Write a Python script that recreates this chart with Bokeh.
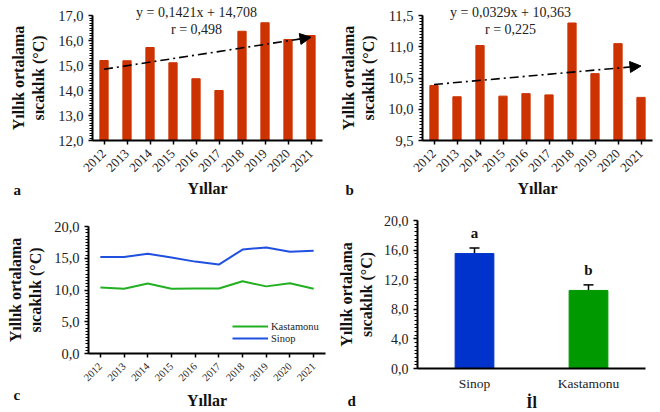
import math
from bokeh.plotting import figure
from bokeh.layouts import column, row
from bokeh.models import (Range1d, FixedTicker, SingleIntervalTicker, CustomJSTickFormatter,
                          Arrow, NormalHead, Label, Legend, LegendItem, ColumnDataSource,
                          Whisker, TeeHead)
from bokeh.embed import file_html
from bokeh.resources import INLINE
from bokeh.core.properties import value

# ---------------- data ----------------
years = [2012, 2013, 2014, 2015, 2016, 2017, 2018, 2019, 2020, 2021]
sinop_temp = [15.20, 15.19, 15.72, 15.11, 14.47, 14.00, 16.37, 16.71, 16.04, 16.20]
kastamonu_temp = [10.38, 10.20, 11.02, 10.21, 10.25, 10.23, 11.38, 10.57, 11.05, 10.19]
sinop_slope, sinop_intercept, sinop_r = 0.1421, 14.708, 0.498
kast_slope, kast_intercept, kast_r = 0.0329, 10.363, 0.225
provinces = ["Sinop", "Kastamonu"]
province_mean = [15.53, 10.55]
province_err = [0.75, 0.75]
province_letters = ["a", "b"]
series_names = ["Kastamonu", "Sinop"]
panel_letters = ["a", "b", "c", "d"]
x_title = "Yıllar"
x_title_d = "İl"
y_title = "Yıllık ortalama\nsıcaklık (°C)"

FONT = "Liberation Serif"
BAR_RED = "#CC3300"
BLUE_BAR = "#0033CC"
GREEN_BAR = "#009A00"
BLUE_LINE = "#2050E0"
GREEN_LINE = "#22B022"

comma_fmt = CustomJSTickFormatter(code="return tick.toFixed(1).replace('.', ',');")


def xspan(v0, p0, v1, p1, size):
    s = (p1 - p0) / (v1 - v0)
    start = v0 - p0 / s
    return Range1d(start, start + size / s)


def yspan(v0, p0, v1, p1, size):
    # p measured from the top of the canvas
    s = (p0 - p1) / (v1 - v0)
    bottom = v0 - (size - p0) / s
    return Range1d(bottom, v1 + p1 / s)


def make_fig(w, h, x_range, y_range, xb, yb, ytick_size="14.5px"):
    p = figure(width=w, height=h, x_range=x_range, y_range=y_range,
               output_backend="svg", toolbar_location=None, min_border=0)
    p.grid.visible = False
    p.outline_line_color = None
    p.background_fill_color = "white"
    for ax in [p.xaxis[0], p.yaxis[0]]:
        ax.axis_line_width = 2
        ax.axis_line_color = "black"
        ax.major_tick_line_color = "black"
        ax.major_tick_line_width = 1.5
        ax.minor_tick_line_color = "black"
        ax.minor_tick_line_width = 1
        ax.major_tick_in = 0
        ax.major_tick_out = 4
        ax.minor_tick_in = 0
        ax.minor_tick_out = 3
        ax.major_label_text_font = FONT
        ax.major_label_text_color = "#222222"
        ax.axis_label_text_font = FONT
        ax.axis_label_text_font_style = "bold"
        ax.axis_label_text_font_size = "16px"
        ax.axis_label_text_color = "#111111"
    p.xaxis[0].fixed_location = yb[0]
    p.xaxis[0].bounds = xb
    p.yaxis[0].fixed_location = xb[0]
    p.yaxis[0].bounds = yb
    p.yaxis[0].axis_label = y_title
    p.yaxis[0].major_label_text_font_size = ytick_size
    p.yaxis[0].major_label_standoff = 5
    p.yaxis[0].axis_label_standoff = 8
    p.yaxis[0].formatter = comma_fmt
    return p


def screen_label(p, text, x, y, size="15px", bold=True, align="left", baseline="middle"):
    p.add_layout(Label(x=x, y=y, x_units="screen", y_units="screen", text=text,
                       text_font=FONT, text_font_style="bold" if bold else "normal",
                       text_font_size=size, text_color="#111111" if bold else "#222222",
                       text_align=align, text_baseline=baseline))


def year_axis(p, tick_size, label_standoff, title_standoff):
    ax = p.xaxis[0]
    ax.ticker = FixedTicker(ticks=years, minor_ticks=[])
    ax.major_label_orientation = math.pi / 4
    ax.major_label_text_font_size = tick_size
    ax.major_label_standoff = label_standoff
    ax.axis_label = x_title
    ax.axis_label_standoff = title_standoff


def trend_panel(temps, slope, intercept, r, y0, y1, interval):
    xb = (years[0] - 0.5, years[-1] + 0.5)
    p = make_fig(330, 200, xspan(xb[0], 92, xb[1], 322, 330), yspan(y0, 140, y1, 15, 200),
                 xb, (y0, y1))
    year_axis(p, "13px", 7, 1)
    p.yaxis[0].ticker = SingleIntervalTicker(interval=interval, num_minor_ticks=10)
    p.vbar(x=years, top=temps, bottom=y0, width=0.36, fill_color=BAR_RED, line_color=BAR_RED)
    xs = list(range(1, len(years) + 1))
    p.add_layout(Arrow(x_start=years[0], y_start=slope * xs[0] + intercept,
                       x_end=years[-1], y_end=slope * xs[-1] + intercept,
                       line_dash="9 4 2 4", line_width=1.6, line_color="black",
                       end=NormalHead(size=11, fill_color="black", line_color="black")))
    return p


pa = trend_panel(sinop_temp, sinop_slope, sinop_intercept, sinop_r, 12.0, 17.0, 1.0)
pb = trend_panel(kastamonu_temp, kast_slope, kast_intercept, kast_r, 9.5, 11.5, 0.5)

for p, slope, intercept, r, cx in [(pa, sinop_slope, sinop_intercept, sinop_r, 196),
                                   (pb, kast_slope, kast_intercept, kast_r, 180)]:
    eq = ("y = %.4fx + %.3f" % (slope, intercept)).replace(".", ",")
    rt = ("r = %.3f" % r).replace(".", ",")
    screen_label(p, eq, cx, 188, size="14px", bold=False, align="center")
    screen_label(p, rt, cx, 171, size="14px", bold=False, align="center")

screen_label(pa, panel_letters[0], 13, 11)
screen_label(pb, panel_letters[1], 15, 11)

# ---------------- panel c ----------------
xb_c = (years[0] - 0.5, years[-1] + 0.5)
pc = make_fig(330, 212, xspan(xb_c[0], 88, xb_c[1], 325, 330), yspan(0, 153, 20, 26, 212),
              xb_c, (0, 20))
year_axis(pc, "10.5px", 7, 5)
pc.yaxis[0].ticker = SingleIntervalTicker(interval=5, num_minor_ticks=10)
pc.yaxis[0].axis_label_standoff = 7
rk = pc.line(years, kastamonu_temp, line_color=GREEN_LINE, line_width=2)
rs = pc.line(years, sinop_temp, line_color=BLUE_LINE, line_width=2)
leg = Legend(items=[LegendItem(label=series_names[0], renderers=[rk]),
                    LegendItem(label=series_names[1], renderers=[rs])],
             location=(232, 68), padding=0, spacing=0, margin=0,
             glyph_width=36, glyph_height=12, label_height=12, label_standoff=3,
             label_text_font=FONT, label_text_font_size="10.5px", label_text_color="#222222",
             border_line_color=None, background_fill_alpha=0)
pc.add_layout(leg)
screen_label(pc, panel_letters[2], 13, 18)

# ---------------- panel d ----------------
d_pos = [i + 1 for i in range(len(provinces))]
xb_d = (d_pos[0] - 0.5, d_pos[-1] + 0.5)
pd_ = make_fig(330, 212, xspan(xb_d[0], 87, xb_d[1], 315, 330), yspan(0, 168, 20, 20, 212),
               xb_d, (0, 20), ytick_size="14px")
pd_.yaxis[0].ticker = SingleIntervalTicker(interval=4, num_minor_ticks=8)
pd_.yaxis[0].axis_label_standoff = 6
axd = pd_.xaxis[0]
axd.ticker = FixedTicker(ticks=d_pos, minor_ticks=[])
axd.major_label_overrides = {pos: name for pos, name in zip(d_pos, provinces)}
axd.major_label_text_font_size = "13.5px"
axd.major_tick_out = 0
axd.major_label_standoff = 7
axd.axis_label = x_title_d
axd.axis_label_standoff = 0
src = ColumnDataSource(dict(x=d_pos, top=province_mean,
                            upper=[m + e for m, e in zip(province_mean, province_err)],
                            lower=[m - e for m, e in zip(province_mean, province_err)],
                            letter=province_letters, color=[BLUE_BAR, GREEN_BAR]))
pd_.vbar(x="x", top="top", bottom=0, width=0.34, fill_color="color", line_color="color", source=src)
pd_.add_layout(Whisker(base="x", upper="upper", lower="lower", source=src,
                       line_color="black", line_width=1.5,
                       upper_head=TeeHead(size=10, line_color="black", line_width=1.5),
                       lower_head=TeeHead(size=10, line_color="black", line_width=1.5)))
pd_.text(x="x", y="upper", text="letter", source=src, text_align="center",
         text_baseline="bottom", y_offset=-7, text_font=value(FONT),
         text_font_style="bold", text_font_size="15px", text_color="#111111")
screen_label(pd_, panel_letters[3], 17, 12)

layout = column(row(pa, pb), row(pc, pd_))
open("out.html", "w").write(file_html(layout, INLINE))
